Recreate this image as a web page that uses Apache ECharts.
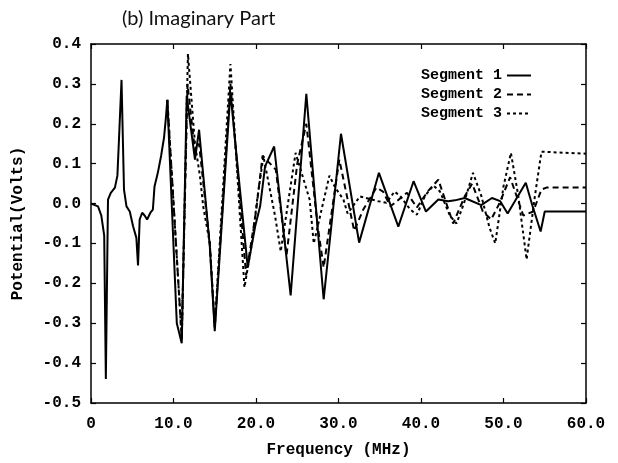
<!DOCTYPE html>
<html><head><meta charset="utf-8">
<script src="https://cdn.jsdelivr.net/npm/echarts@6/dist/echarts.min.js"></script>
<style>html,body{margin:0;padding:0;background:#fff}#c{width:618px;height:463px}</style>
</head><body><div id="c"></div>
<script>
const titleText = "(b) Imaginary Part";
const seriesNames = ["Segment 1", "Segment 2", "Segment 3"];
const xTicks = [0, 10, 20, 30, 40, 50, 60];
const yTicks = [-0.5, -0.4, -0.3, -0.2, -0.1, 0.0, 0.1, 0.2, 0.3, 0.4];

const seg1Freq = [0,0.85,1.25,1.6,1.8,2.06,2.4,2.9,3.2,3.4,3.7,4.0,4.3,4.7,5.1,5.5,5.7,5.9,6.2,6.5,6.8,7.2,7.5,7.7,8.1,8.5,8.85,9.1,9.25,10.4,11.0,11.6,12.6,13.1,14.4,15.0,16.9,17.45,19.0,19.9,20.5,21.1,22.2,24.2,26.1,28.2,30.3,32.5,34.9,37.25,39.1,40.6,42.1,43.3,44.1,45.3,47.3,48.6,49.6,50.5,52.7,53.5,54.5,55.0,60];
const seg1Vals = [0,-0.007,-0.03,-0.08,-0.44,0.01,0.027,0.04,0.07,0.165,0.31,0.035,-0.007,-0.02,-0.057,-0.086,-0.155,-0.04,-0.023,-0.03,-0.04,-0.023,-0.015,0.043,0.077,0.12,0.165,0.22,0.26,-0.3,-0.35,0.27,0.11,0.185,-0.107,-0.32,0.28,0.16,-0.16,-0.057,-0.007,0.093,0.143,-0.23,0.275,-0.24,0.175,-0.098,0.077,-0.058,0.056,-0.02,0.01,0.006,0.008,0.014,-0.004,0.014,0.006,-0.025,0.052,-0.005,-0.07,-0.02,-0.02];

const seg2Freq = [9.25,11.0,11.7,12.6,13.1,14.4,15.0,16.9,17.5,18.8,20.0,20.8,22.4,23.7,25.0,26.1,27.5,28.2,30.1,31.9,33.0,34.6,35.4,36.3,38.3,39.5,40.8,42.1,43.9,45.3,46.2,47.5,48.5,49.5,50.8,52.4,53.6,54.6,55.2,60];
const seg2Vals = [0.26,-0.34,0.3,0.13,0.15,-0.1,-0.31,0.3,0.15,-0.18,-0.02,0.12,0.085,-0.13,0.1,0.2,-0.06,-0.16,0.11,-0.068,-0.015,0.04,0.03,-0.007,0.027,-0.01,0.03,0.06,-0.05,0.018,0.05,-0.02,-0.04,0.0,0.066,-0.03,-0.02,0.035,0.04,0.04];

const seg3Freq = [9.25,11.0,11.75,12.6,13.2,13.6,14.4,15.0,16.9,17.5,18.6,19.5,20.2,20.9,22.3,23.0,24.8,26.5,27.0,28.9,29.6,30.6,31.1,32.6,34.8,35.8,36.8,37.5,38.7,39.5,40.5,41.5,42.3,43.5,44.3,45.2,46.3,47.3,48.3,49.0,50.0,50.9,51.8,52.8,53.8,54.6,60];
const seg3Vals = [0.26,-0.34,0.375,0.15,0.07,-0.007,-0.1,-0.31,0.35,0.15,-0.21,-0.1,0.02,0.118,-0.03,-0.12,0.127,0.01,-0.1,0.07,0.04,0.01,-0.025,0.018,0.006,0.002,0.03,0.018,-0.015,-0.028,0.02,0.045,0.03,-0.03,-0.05,0.0,0.077,0.02,-0.06,-0.1,0.043,0.127,0.018,-0.14,0.018,0.13,0.125];

function pairs(f, v) { return f.map((x, i) => [x, v[i]]); }

const font = '"Liberation Mono", "Courier New", monospace';
const chart = echarts.init(document.getElementById('c'), null, {renderer: 'canvas'});
const axisLine = {show: true, onZero: false, lineStyle: {color: '#000', width: 1.5}};
const tick = {show: true, inside: true, length: 5, lineStyle: {color: '#000', width: 1.2}};
chart.setOption({
  animation: false,
  backgroundColor: '#fff',
  title: {text: titleText, left: 117, top: 4, textStyle: {fontFamily: 'Lato, "Noto Sans", sans-serif', fontWeight: 'normal', fontSize: 20, color: '#111'}},
  grid: {left: 91, right: 32, top: 44, bottom: 59},
  legend: {
    orient: 'vertical', right: 81, top: 63, align: 'right', itemWidth: 24, itemHeight: 10, itemGap: 4,
    itemStyle: {opacity: 0},
    textStyle: {fontFamily: font, fontWeight: 'bold', fontSize: 15, color: '#000'},
    data: seriesNames
  },
  xAxis: [{
    type: 'value', min: 0, max: 60, interval: 10, position: 'bottom',
    axisLine: axisLine, axisTick: tick, splitLine: {show: false},
    axisLabel: {margin: 13, fontFamily: font, fontWeight: 'bold', fontSize: 16, color: '#000',
      formatter: v => xTicks.indexOf(v) < 0 ? '' : (v === 0 ? '0' : v.toFixed(1))},
    name: 'Frequency (MHz)', nameLocation: 'middle', nameGap: 39,
    nameTextStyle: {fontFamily: font, fontWeight: 'bold', fontSize: 16, color: '#000'}
  }, {
    type: 'value', min: 0, max: 60, interval: 10, position: 'top',
    axisLine: axisLine, axisTick: tick, axisLabel: {show: false}, splitLine: {show: false}
  }],
  yAxis: [{
    type: 'value', min: -0.5, max: 0.4, interval: 0.1, position: 'left',
    axisLine: axisLine, axisTick: tick, splitLine: {show: false},
    axisLabel: {margin: 10, fontFamily: font, fontWeight: 'bold', fontSize: 16, color: '#000',
      formatter: v => { const t = yTicks.find(y => Math.abs(y - v) < 1e-6); return t === undefined ? '' : t.toFixed(1); }},
    name: 'Potential(Volts)', nameLocation: 'middle', nameGap: 65, nameRotate: 90,
    nameTextStyle: {fontFamily: font, fontWeight: 'bold', fontSize: 16, color: '#000'}
  }, {
    type: 'value', min: -0.5, max: 0.4, interval: 0.1, position: 'right',
    axisLine: axisLine, axisTick: tick, axisLabel: {show: false}, splitLine: {show: false}
  }],
  series: [
    {name: seriesNames[0], type: 'line', symbol: 'none', data: pairs(seg1Freq, seg1Vals),
      lineStyle: {color: '#000', width: 2}, itemStyle: {color: '#000'}, z: 3},
    {name: seriesNames[1], type: 'line', symbol: 'none', data: pairs(seg2Freq, seg2Vals),
      lineStyle: {color: '#000', width: 2, type: [6, 4]}, itemStyle: {color: '#000'}, z: 2},
    {name: seriesNames[2], type: 'line', symbol: 'none', data: pairs(seg3Freq, seg3Vals),
      lineStyle: {color: '#000', width: 2, type: [3, 3]}, itemStyle: {color: '#000'}, z: 1}
  ]
});
</script></body></html>
